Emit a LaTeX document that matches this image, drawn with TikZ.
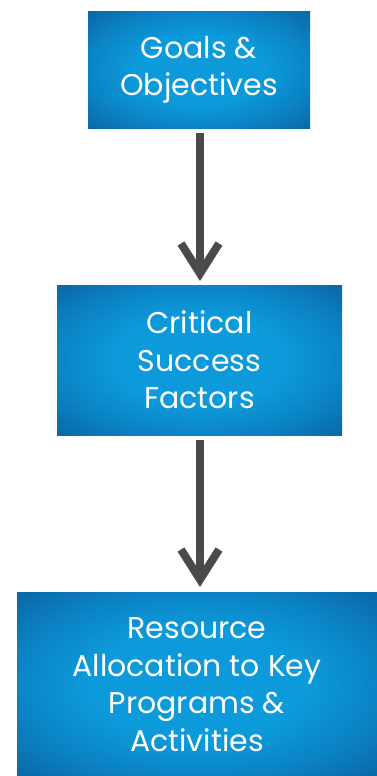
\documentclass[tikz,border=0pt]{standalone}
\usepackage{fontspec}
\setmainfont{Poppins}
\usetikzlibrary{arrows.meta}
\definecolor{boxin}{HTML}{0C9ADA}
\definecolor{boxedge}{HTML}{0B84C6}
\definecolor{boxout}{HTML}{0A66A6}
\definecolor{arrowgray}{HTML}{4A4A4A}
% light centre, darker rim towards the corners
\pgfdeclareradialshading{vignette}{\pgfpoint{0bp}{0bp}}{%
  color(0bp)=(boxin); color(15bp)=(boxin); color(25bp)=(boxedge);
  color(36bp)=(boxout); color(50bp)=(boxout)}
\tikzset{
  x=1pt, y=-1pt,
  flowbox/.style={rectangle, inner sep=0pt, outer sep=0pt, draw=none,
    shading=vignette, text=white, align=center,
    font=\fontsize{30}{37.5}\selectfont},
  flowarrow/.style={draw=arrowgray, line width=8pt,
    -{Straight Barb[length=30pt, width=38pt, line width=8pt]}},
}
\begin{document}
\begin{tikzpicture}
\useasboundingbox[fill=white] (0,0) rectangle (376,776);
\node[flowbox, minimum width=222pt, minimum height=116pt] (goals) at (199,70)
  {Goals \&\\Objectives};
\node[flowbox, minimum width=285pt, minimum height=150pt] (csf) at (199.5,360)
  {Critical\\Success\\Factors};
\node[flowbox, minimum width=360pt, minimum height=184pt] (res) at (197,684.5)
  {Resource\\Allocation to Key\\Programs \&\\Activities};
\coordinate (a1s) at (200,133);
\coordinate (a1e) at (200,281);
\coordinate (a2s) at (200,440);
\coordinate (a2e) at (200,587);
\draw[flowarrow] (goals.south -| a1s) ++(0,5) -- (a1e);
\draw[flowarrow] (csf.south -| a2s) ++(0,5) -- (a2e);
\end{tikzpicture}
\end{document}
